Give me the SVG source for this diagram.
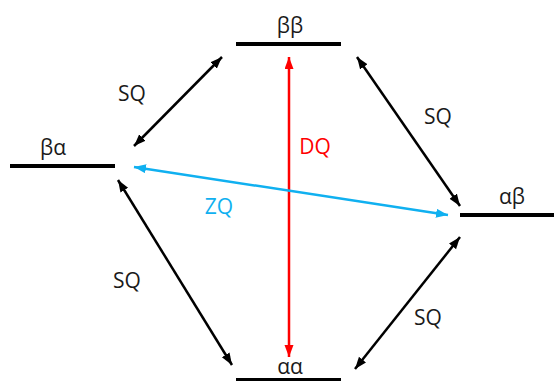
<svg xmlns="http://www.w3.org/2000/svg" width="554" height="381" viewBox="0 0 554 381">
<style>
.lvl{stroke:#000;stroke-width:4;fill:none}
.t{font-family:"Open Sans","Liberation Sans",sans-serif;font-size:21px;text-anchor:middle}
.k{fill:#1a1a1a}
.sq{stroke:#000;stroke-width:2.5;fill:none}
.dq{stroke:#ff0000;stroke-width:2.5;fill:none}
.zq{stroke:#10b0f0;stroke-width:2.5;fill:none}
</style>
<defs>
<marker id="ak" markerUnits="userSpaceOnUse" markerWidth="13" markerHeight="10" refX="12" refY="4.5" orient="auto-start-reverse"><path d="M0,0 L12,4.5 L0,9 z" fill="#000"/></marker>
<marker id="ar" markerUnits="userSpaceOnUse" markerWidth="13" markerHeight="10" refX="12" refY="4.5" orient="auto-start-reverse"><path d="M0,0 L12,4.5 L0,9 z" fill="#ff0000"/></marker>
<marker id="ab" markerUnits="userSpaceOnUse" markerWidth="13" markerHeight="10" refX="12" refY="4.5" orient="auto-start-reverse"><path d="M0,0 L12,4.5 L0,9 z" fill="#10b0f0"/></marker>
</defs>
<rect width="554" height="381" fill="#fff"/>
<g id="bb"><line class="lvl" x1="236" y1="44" x2="341" y2="44"/><text class="t k" x="290" y="33">ββ</text></g>
<g id="ba"><line class="lvl" x1="10" y1="166" x2="115" y2="166"/><text class="t k" x="53" y="155">βα</text></g>
<g id="ab_"><line class="lvl" x1="460" y1="215" x2="554" y2="215"/><text class="t k" x="512" y="204">αβ</text></g>
<g id="aa"><line class="lvl" x1="236" y1="380" x2="341" y2="380"/><text class="t k" x="290" y="374">αα</text></g>
<g id="connectors">
<line class="sq" x1="222" y1="57" x2="134" y2="146" marker-start="url(#ak)" marker-end="url(#ak)"/>
<line class="sq" x1="357" y1="57" x2="460" y2="206" marker-start="url(#ak)" marker-end="url(#ak)"/>
<line class="sq" x1="118" y1="180" x2="232" y2="365" marker-start="url(#ak)" marker-end="url(#ak)"/>
<line class="sq" x1="460" y1="237" x2="355" y2="369" marker-start="url(#ak)" marker-end="url(#ak)"/>
<line class="dq" x1="289" y1="57" x2="289" y2="357" marker-start="url(#ar)" marker-end="url(#ar)"/>
<line class="zq" x1="134" y1="167" x2="448" y2="215" marker-start="url(#ab)" marker-end="url(#ab)"/>
<text class="t k" x="132" y="101">SQ</text>
<text class="t k" x="438" y="124">SQ</text>
<text class="t k" x="127" y="288">SQ</text>
<text class="t k" x="428" y="325">SQ</text>
<text class="t" x="315" y="154" fill="#ff0000">DQ</text>
<text class="t" x="219" y="214" fill="#10b0f0">ZQ</text>
</g>
</svg>
